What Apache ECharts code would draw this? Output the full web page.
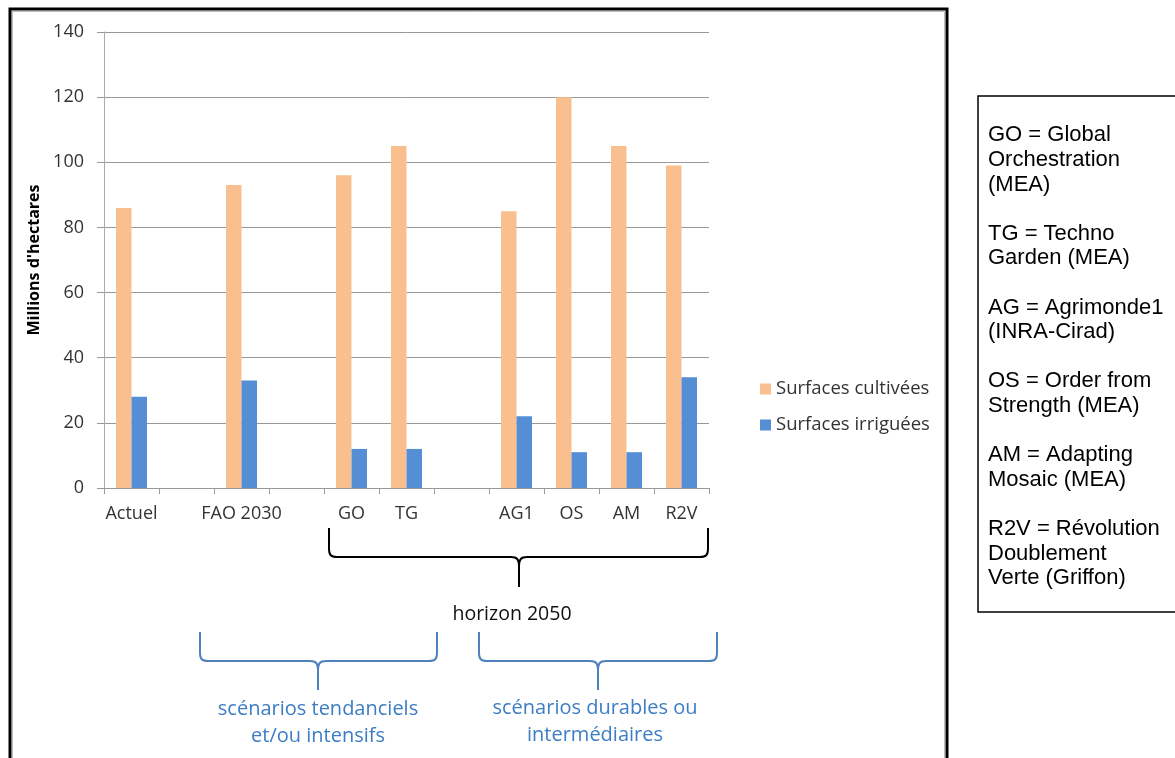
<!DOCTYPE html>
<html><head><meta charset="utf-8">
<script src="https://cdn.jsdelivr.net/npm/echarts@6/dist/echarts.min.js"></script>
<style>html,body{margin:0;padding:0;background:#fff}#c{width:1175px;height:758px}</style>
</head><body><div id="c"></div>
<script>
const categories = ['Actuel', '', 'FAO 2030', '', 'GO', 'TG', '', 'AG1', 'OS', 'AM', 'R2V'];
const cultivees = [86, null, 93, null, 96, 105, null, 85, 120, 105, 99];
const irriguees = [28, null, 33, null, 12, 12, null, 22, 11, 11, 34];
const yTicks = [0, 20, 40, 60, 80, 100, 120, 140];
const seriesNames = ['Surfaces cultivées', 'Surfaces irriguées'];
const noteLines = ['GO = Global', 'Orchestration', '(MEA)', '', 'TG = Techno', 'Garden (MEA)', '',
  'AG = Agrimonde1', '(INRA-Cirad)', '', 'OS = Order from', 'Strength (MEA)', '',
  'AM = Adapting', 'Mosaic (MEA)', '', 'R2V = Révolution', 'Doublement', 'Verte (Griffon)'];

const chart = echarts.init(document.getElementById('c'), null, {renderer: 'canvas'});
const FONT = '"Open Sans", Lato, "Noto Sans", sans-serif';

function brace(x1, x2, cx, top, mid, tip, color) {
  const r = 8;
  const st = {stroke: color, lineWidth: 2, fill: null};
  const L = (a, b, c, d) => ({type: 'line', shape: {x1: a, y1: b, x2: c, y2: d}, style: st});
  const B = (a, b, c, d, p1x, p1y, p2x, p2y) => ({type: 'bezierCurve', shape: {x1: a, y1: b, x2: c, y2: d, cpx1: p1x, cpy1: p1y, cpx2: p2x, cpy2: p2y}, style: st});
  return [
    L(x1, top, x1, mid - r),
    B(x1, mid - r, x1 + r, mid, x1, mid - 2, x1 + 2, mid),
    L(x1 + r, mid, cx - r, mid),
    B(cx - r, mid, cx, mid + r + 2, cx - 2, mid, cx, mid + 2),
    L(cx, mid + r + 2, cx, tip),
    B(cx + r, mid, cx, mid + r + 2, cx + 2, mid, cx, mid + 2),
    L(cx + r, mid, x2 - r, mid),
    B(x2, mid - r, x2 - r, mid, x2, mid - 2, x2 - 2, mid),
    L(x2, top, x2, mid - r)
  ];
}

const graphics = [
  {type: 'rect', shape: {x: 10, y: 9, width: 937, height: 820}, style: {fill: null, stroke: '#000', lineWidth: 3}, z: 10},
  {type: 'rect', shape: {x: 12.5, y: 11.5, width: 932, height: 820}, style: {fill: null, stroke: '#bbb', lineWidth: 1}, z: 9},
  {type: 'rect', shape: {x: 978, y: 96, width: 220, height: 516}, style: {fill: null, stroke: '#000', lineWidth: 1.5}},
  ...brace(329, 708, 519, 528, 557, 587, '#000'),
  ...brace(200, 437, 318, 632, 661, 690, '#4F81BD'),
  ...brace(479, 717, 598, 632, 661, 690, '#4F81BD'),
  {type: 'text', style: {text: 'horizon 2050', x: 512, y: 603, textAlign: 'center', fill: '#111', font: '19.5px ' + FONT, lineHeight: 22}},
  {type: 'text', style: {text: 'scénarios tendanciels\net/ou intensifs', x: 318, y: 696, textAlign: 'center', fill: '#3D7DC4', font: '20px ' + FONT, lineHeight: 27}},
  {type: 'text', style: {text: 'scénarios durables ou\nintermédiaires', x: 595, y: 695, textAlign: 'center', fill: '#3D7DC4', font: '20px ' + FONT, lineHeight: 27}},
  {type: 'text', style: {text: noteLines.join('\n'), x: 988, y: 123, fill: '#000', font: '22px "Liberation Sans", Arial, sans-serif', lineHeight: 24.6}}
];

chart.setOption({
  animation: false,
  backgroundColor: '#fff',
  grid: {left: 104, right: 466, top: 32, bottom: 270, containLabel: false},
  legend: {
    orient: 'vertical', left: 755, top: 374, itemWidth: 11, itemHeight: 11, itemGap: 16, icon: 'rect',
    textStyle: {fontSize: 18.5, color: '#333', fontFamily: FONT, lineHeight: 20}, data: seriesNames
  },
  xAxis: {
    type: 'category', data: categories,
    axisLine: {lineStyle: {color: '#999'}},
    axisTick: {show: true, length: 6, lineStyle: {color: '#999'}},
    axisLabel: {fontSize: 18, color: '#333', fontFamily: FONT, margin: 17, interval: 0}
  },
  yAxis: {
    type: 'value', min: 0, max: 140, interval: 20,
    name: "Millions d'hectares", nameLocation: 'middle', nameGap: 62, nameRotate: 90,
    nameTextStyle: {fontSize: 16, fontWeight: 'bold', color: '#000', fontFamily: FONT},
    axisLine: {show: true, lineStyle: {color: '#aaa'}},
    axisTick: {show: true, length: 7, lineStyle: {color: '#999'}},
    axisLabel: {fontSize: 18, color: '#333', fontFamily: FONT, margin: 20,
      formatter: v => yTicks.includes(v) ? String(v) : ''},
    splitLine: {lineStyle: {color: '#999'}}
  },
  series: [
    {name: seriesNames[0], type: 'bar', data: cultivees, barWidth: 15.5, barGap: '0%', itemStyle: {color: '#F9BF8F'}},
    {name: seriesNames[1], type: 'bar', data: irriguees, barWidth: 15.5, barGap: '0%', itemStyle: {color: '#558ED5'}}
  ],
  graphic: graphics
});
</script></body></html>
